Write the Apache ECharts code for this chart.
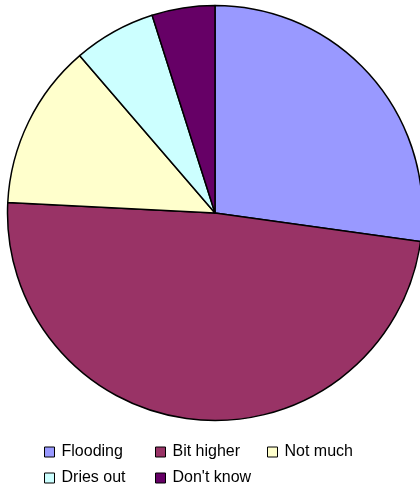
<!DOCTYPE html>
<html>
<head>
<meta charset="utf-8">
<script src="https://cdn.jsdelivr.net/npm/echarts@6/dist/echarts.min.js"></script>
<style>html,body{margin:0;padding:0;background:#fff;}#c{width:420px;height:489px;}</style>
</head>
<body>
<div id="c"></div>
<script>
const categories = ["Flooding", "Bit higher", "Not much", "Dries out", "Don't know"];
const values = [27.2, 48.6, 12.9, 6.4, 4.9];
const colors = ["#9999FF", "#993366", "#FFFFCC", "#CCFFFF", "#660066"];

const chart = echarts.init(document.getElementById('c'), null, {renderer: 'canvas'});
const legendPos = [
  {left: 44, top: 444},
  {left: 155, top: 444},
  {left: 267, top: 444},
  {left: 44, top: 470},
  {left: 155, top: 470}
];
const legends = categories.map((name, i) => ({
  data: [name],
  left: legendPos[i].left,
  top: legendPos[i].top,
  padding: 0,
  itemWidth: 10,
  itemHeight: 10,
  itemGap: 0,
  icon: 'rect',
  selectedMode: false,
  itemStyle: {borderColor: '#000', borderWidth: 1},
  textStyle: {fontFamily: 'Liberation Sans', fontSize: 16, color: '#000', padding: [0, 0, 0, 2]}
}));
chart.setOption({
  backgroundColor: '#fff',
  animation: false,
  legend: legends,
  series: [{
    type: 'pie',
    center: [215, 213],
    radius: 207.5,
    startAngle: 90,
    clockwise: true,
    label: {show: false},
    labelLine: {show: false},
    emphasis: {disabled: true},
    itemStyle: {borderColor: '#000', borderWidth: 1.5},
    data: categories.map((name, i) => ({name, value: values[i], itemStyle: {color: colors[i]}}))
  }]
});
</script>
</body>
</html>
